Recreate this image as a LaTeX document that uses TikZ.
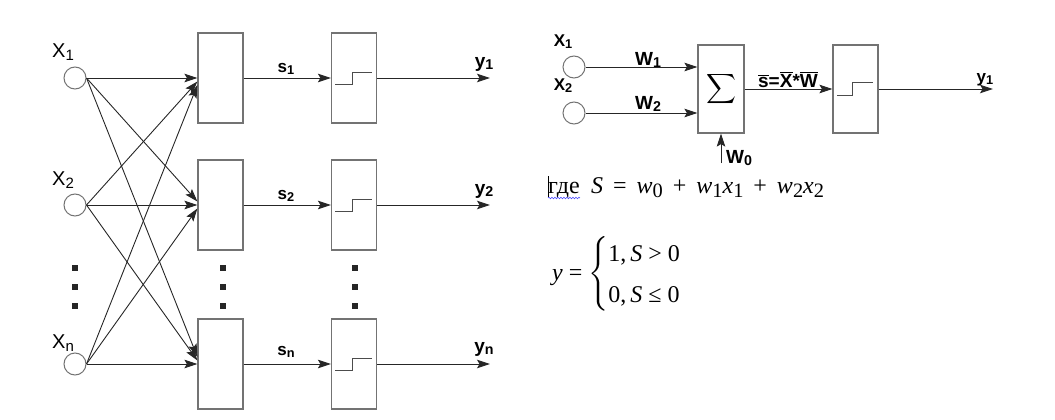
\documentclass[tikz,border=0pt]{standalone}
\usepackage{amsmath}
\usepackage{graphicx}
\usepackage{fontspec}
\setmainfont{Liberation Serif}
\setsansfont{Liberation Sans}
\usetikzlibrary{arrows.meta,calc,decorations.pathmorphing}

\newcommand{\lo}[1]{\raisebox{-0.25ex}{\scalebox{0.75}{#1}}}
\newcommand{\ls}[1]{\raisebox{-0.45ex}{\scalebox{0.85}{#1}}}

\tikzset{
  inp/.style={circle, draw=black!55, line width=1pt, minimum size=22pt, inner sep=0pt},
  blk/.style={rectangle, draw=black!55, line width=1.2pt, minimum width=45pt, minimum height=90pt, inner sep=0pt},
  con/.style={draw=black!85, line width=0.9pt, -{Stealth[length=13pt,width=8.5pt,inset=2.5pt]}},
  big/.style={font=\sffamily\fontsize{20}{20}\selectfont, inner sep=0pt},
  sml/.style={font=\sffamily\bfseries\fontsize{17}{17}\selectfont, inner sep=0pt},
  mid/.style={font=\sffamily\bfseries\fontsize{17}{17}\selectfont, inner sep=0pt},
  lrg/.style={font=\sffamily\bfseries\fontsize{19}{19}\selectfont, inner sep=0pt},
}

\begin{document}
\begin{tikzpicture}[x=1pt, y=-1pt]
  \useasboundingbox (0,0) rectangle (1055,420);
  % inputs and blocks
  \node[inp] (x1) at (75,78) {};
  \node[inp] (x2) at (75,205) {};
  \node[inp] (xn) at (75,364) {};
  \node[blk] (b1) at (220.5,78) {};
  \node[blk] (b2) at (220.5,205) {};
  \node[blk] (bn) at (220.5,364) {};
  \node[blk] (t1) at (354,78) {};
  \node[blk] (t2) at (354,205) {};
  \node[blk] (tn) at (354,364) {};
  % all to all
  \foreach \a/\i in {x1/1,x2/2,xn/3}
    \foreach \b/\j in {b1/1,b2/2,bn/3}
      \draw[con] (\a.east) -- ($(\b.west)+(0,{(\i-\j)*3.5})$);
  % outputs
  \coordinate (o1) at (490,78);
  \coordinate (o2) at (490,205);
  \coordinate (on) at (490,364);
  \foreach \b/\t/\o in {b1/t1/o1,b2/t2/o2,bn/tn/on} {
    \draw[con] (\b) -- (\t);
    \draw[con] (\t) -- (\o);
  }
  % steps
  \foreach \t in {t1,t2,tn}
    \draw[black!70, line width=0.9pt] ($(\t.center)+(-19,6)$) -- ++(17,0) -- ++(0,-12) -- ++(20,0);
  % dots
  \foreach \x in {75,223,355}
    \foreach \y in {268,287,306}
      \fill[black!85] (\x-3,\y-3) rectangle ++(6,6);
  % lables
  \node[big] at (63,52) {X\lo{1}};
  \node[big] at (63,180) {X\lo{2}};
  \node[big] at (63,343) {X\lo{n}};
  \node[sml] at (286,69) {s\lo{1}};
  \node[sml] at (286,196) {s\lo{2}};
  \node[sml] at (286,352) {s\lo{n}};
  \node[lrg] at (484,64) {y\lo{1}};
  \node[lrg] at (484,191) {y\lo{2}};
  \node[lrg] at (484,349) {y\lo{n}};

  % single neuron
  \node[inp] (r1) at (574,67) {};
  \node[inp] (r2) at (574,113) {};
  \node[blk, minimum width=46pt, minimum height=88pt] (sum) at (721,89) {\fontsize{20}{20}\selectfont$\displaystyle\sum$};
  \node[blk, minimum width=45pt, minimum height=88pt] (st) at (855.5,89) {};
  \draw[con] (r1.east) -- (r1 -| sum.west);
  \draw[con] (r2.east) -- (r2 -| sum.west);
  \draw[con] (sum) -- (st);
  \coordinate (ro) at (993,89);
  \draw[con] (st) -- (ro);
  \coordinate (w0) at (721,163);
  \draw[con] (w0) -- (sum);
  \draw[black!70, line width=0.9pt] ($(st.center)+(-18.5,6)$) -- ++(15,0) -- ++(0,-13) -- ++(21,0);
  \node[mid] at (563,42) {X\lo{1}};
  \node[mid] at (563,86) {X\lo{2}};
  \node[lrg] at (648,60) {W\lo{1}};
  \node[lrg] at (648,104) {W\lo{2}};
  \node[lrg, anchor=base] at (788,88) {$\overline{\mbox{s}}$=$\overline{\mbox{X}}$*$\overline{\mbox{W}}$};
  \node[mid] at (985,80) {y\lo{1}};
  \node[lrg, anchor=west] at (726,158) {W\lo{0}};

  % formulas
  \node[anchor=base west, inner sep=0pt, font=\fontsize{24}{24}\selectfont] (gde) at (548,193) {где};
  \node[anchor=base west, inner sep=0pt, font=\fontsize{24}{24}\selectfont] (sf) at ($(gde.base east)+(11,0)$)
    {\textit{S}\, = \,\textit{w}\ls{0}\, + \,\textit{w}\ls{1}\textit{x}\ls{1}\, + \,\textit{w}\ls{2}\textit{x}\ls{2}};
  \draw[blue!70, line width=0.6pt, decorate, decoration={snake, amplitude=0.8pt, segment length=3pt}]
    ($(gde.base west)+(0,5)$) -- ($(gde.base east)+(0,5)$);
  \draw[black, line width=0.6pt] ($(gde.base west)+(0,4)$) -- ++(0,-21);
  \node[anchor=west, inner sep=0pt, font=\fontsize{24}{28}\selectfont] (yc) at (552,274)
    {\textit{y} = $\Bigg\{\renewcommand{\arraystretch}{1.45}\begin{array}{@{}l@{}}\mbox{1,\,\textit{S} > 0}\\ \mbox{0,\,\textit{S} ≤ 0}\end{array}$};
\end{tikzpicture}
\end{document}
